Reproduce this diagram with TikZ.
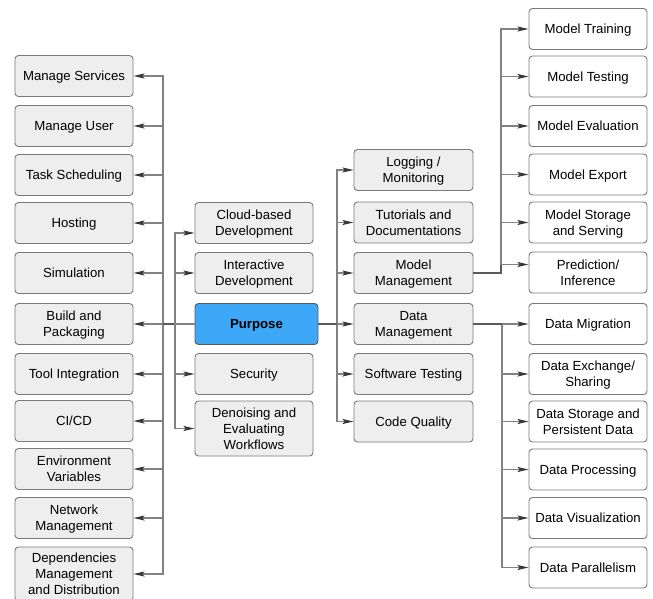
\documentclass[tikz,border=0pt]{standalone}
\usepackage{fontspec}
\setmainfont{Liberation Sans}
\usetikzlibrary{arrows.meta}
\definecolor{boxgray}{HTML}{EEEEEE}
\definecolor{boxline}{HTML}{7A7A7A}
\definecolor{edgecol}{HTML}{828282}
\definecolor{edgedark}{HTML}{5A5A5A}
\definecolor{purposeblue}{HTML}{3DA8F7}
\begin{document}
\begin{tikzpicture}[x=1pt,y=-1pt,
  box/.style={draw=boxline,line width=0.9pt,rounded corners=3.5pt,fill=boxgray,
    minimum width=118pt,minimum height=41pt,align=center,inner sep=1pt,text depth=0pt,
    font=\fontsize{13.2}{16}\selectfont},
  wbox/.style={box,fill=white},
  pbox/.style={box,fill=purposeblue,draw=edgedark,minimum width=123pt,font=\fontsize{13.2}{16}\selectfont\bfseries},
  edge/.style={draw=edgecol,line width=1.1pt,-{Stealth[length=11pt,width=5pt,inset=2pt,color=black!78]}},
  trunk/.style={draw=edgedark,line width=1.6pt}
]
\useasboundingbox (0,0) rectangle (653,598);
% left column
\node[box] (ms) at (74,76) {Manage Services};
\node[box] (mu) at (74,126) {Manage User};
\node[box] (ts) at (74,175) {Task Scheduling};
\node[box] (host) at (74,223) {Hosting};
\node[box] (sim) at (74,273) {Simulation};
\node[box] (bp) at (74,324) {Build and\\Packaging};
\node[box] (ti) at (74,374) {Tool Integration};
\node[box] (cicd) at (74,421) {CI/CD};
\node[box] (env) at (74,469) {Environment\\Variables};
\node[box] (net) at (74,518) {Network\\Management};
\node[box,minimum height=54pt] (dep) at (74,574) {Dependencies\\Management\\and Distribution};
% middle-left
\node[box] (cloud) at (254,223) {Cloud-based\\Development};
\node[box] (inter) at (254,273) {Interactive\\Development};
\node[pbox] (purpose) at (256.5,324) {Purpose};
\node[box] (sec) at (254,374) {Security};
\node[box,minimum height=55pt] (den) at (254,428.5) {Denoising and\\Evaluating\\Workflows};
% middle-right
\node[box,minimum width=119pt] (log) at (413.5,170) {Logging /\\Monitoring};
\node[box,minimum width=119pt] (tut) at (413.5,222.5) {Tutorials and\\Documentations};
\node[box,minimum width=119pt] (mm) at (413.5,273) {Model\\Management};
\node[box,minimum width=119pt] (dm) at (413.5,324) {Data\\Management};
\node[box,minimum width=119pt] (st) at (413.5,374) {Software Testing};
\node[box,minimum width=119pt] (cq) at (413.5,421.5) {Code Quality};
% right column
\node[wbox] (mt) at (588,29) {Model Training};
\node[wbox] (mtest) at (588,76.5) {Model Testing};
\node[wbox] (meval) at (588,126) {Model Evaluation};
\node[wbox] (mexp) at (588,174.5) {Model Export};
\node[wbox] (mstor) at (588,222.5) {Model Storage\\and Serving};
\node[wbox] (pred) at (588,272.5) {Prediction/\\Inference};
\node[wbox] (dmig) at (588,324) {Data Migration};
\node[wbox] (dex) at (588,374) {Data Exchange/\\Sharing};
\node[wbox] (dsto) at (588,421.5) {Data Storage and\\Persistent Data};
\node[wbox] (dproc) at (588,469.5) {Data Processing};
\node[wbox] (dvis) at (588,518) {Data Visualization};
\node[wbox] (dpar) at (588,567.5) {Data Parallelism};
% trunk coordinates
\coordinate (tl) at (163,0);
\coordinate (ti2) at (175,0);
\coordinate (tr) at (337,0);
\coordinate (tm) at (501,0);
\coordinate (td) at (502,0);
% left edges
\foreach \n in {ms,mu,ts,host,sim,ti,cicd,env,net,dep}
  \draw[edge] (purpose.west) -- (purpose.west -| tl) |- (\n.east);
\draw[edge] (purpose.west) -- (bp.east);
\draw[trunk] (purpose.west) -- (purpose.west -| tl);
% inner edges
\draw[edge] (purpose.west) -- (purpose.west -| ti2) |- ([yshift=-10pt]cloud.west);
\foreach \n in {inter,sec,den}
  \draw[edge] (purpose.west) -- (purpose.west -| ti2) |- (\n.west);
% right edges
\foreach \n in {log,tut,mm,dm,st,cq}
  \draw[edge] (purpose.east) -- (purpose.east -| tr) |- (\n.west);
\draw[trunk] (purpose.east) -- (purpose.east -| tr);
% model management
\foreach \n in {mt,mtest,meval,mexp,mstor}
  \draw[edge] (mm.east) -- (mm.east -| tm) |- (\n.west);
\draw[edge] (mm.east) -- (mm.east -| tm) |- ([yshift=8pt]pred.west);
\draw[trunk,line join=miter] (mm.east) -- (mm.east -| tm) -- ([yshift=8pt]pred.west -| tm);
% data management
\draw[edge] (dm.east) -- (dmig.west);
\foreach \n in {dex,dsto,dproc,dvis,dpar}
  \draw[edge] (dm.east) -- (dm.east -| td) |- (\n.west);
\draw[trunk] (dm.east) -- (dm.east -| td);
\end{tikzpicture}
\end{document}
